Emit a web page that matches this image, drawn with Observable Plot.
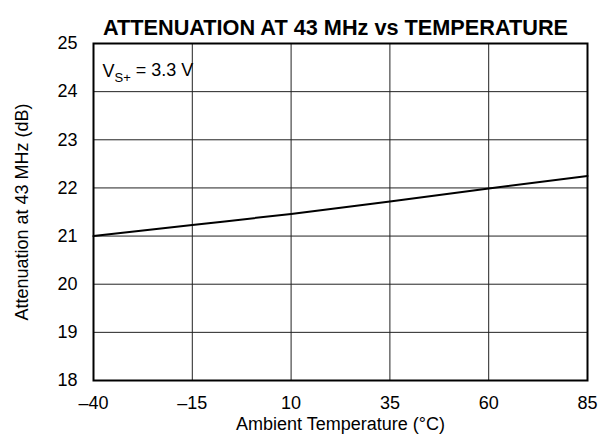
<!DOCTYPE html>
<html>
<head>
<meta charset="utf-8">
<script src="https://cdn.jsdelivr.net/npm/d3@7"></script>
<script src="https://cdn.jsdelivr.net/npm/@observablehq/plot@0.6"></script>
<style>
  html, body { margin: 0; padding: 0; background: white; }
</style>
</head>
<body>
<div id="chart"></div>
<script>
const title = "ATTENUATION AT 43 MHz vs TEMPERATURE";
const xLabel = "Ambient Temperature (°C)";
const yLabel = "Attenuation at 43 MHz (dB)";
const temperatures = [-40, -15, 10, 35, 60, 85];
const attenuation = [21.0, 21.23, 21.46, 21.72, 21.99, 22.25];
const xTicks = [-40, -15, 10, 35, 60, 85];
const yTicks = [18, 19, 20, 21, 22, 23, 24, 25];
const annotation = ["V|S+| = 3.3 V"];

const data = temperatures.map((t, i) => ({t, a: attenuation[i]}));
const fmt = d => d < 0 ? "\u2013" + Math.abs(d) : String(d);

const plot = Plot.plot({
  width: 599,
  height: 446,
  marginTop: 43,
  marginBottom: 66,
  marginLeft: 93,
  marginRight: 12,
  style: {fontFamily: "'Liberation Sans', Arial, Helvetica, sans-serif", fontSize: "18px", color: "black", background: "white"},
  x: {domain: [-40, 85], label: null},
  y: {domain: [18, 25], label: null},
  marks: [
    Plot.gridX(xTicks, {stroke: "#222", strokeOpacity: 1, strokeWidth: 1}),
    Plot.gridY(yTicks, {stroke: "#222", strokeOpacity: 1, strokeWidth: 1}),
    Plot.line(data, {x: "t", y: "a", curve: "monotone-x", stroke: "black", strokeWidth: 2}),
    Plot.text(annotation, {frameAnchor: "top-left", dx: 9, dy: 21, textAnchor: "start", fontSize: 18}),
    Plot.frame({stroke: "black", strokeWidth: 2}),
    Plot.axisX(xTicks, {tickSize: 0, tickPadding: 16, tickFormat: fmt, fontSize: 18}),
    Plot.axisY(yTicks, {tickSize: 0, tickPadding: 16, fontSize: 18}),
    Plot.text([xLabel], {frameAnchor: "bottom", dy: 49, fontSize: 18}),
    Plot.text([yLabel], {frameAnchor: "left", textAnchor: "middle", rotate: -90, dx: -71, fontSize: 18}),
    Plot.text([title], {frameAnchor: "top", dx: -5, dy: -24, fontWeight: "bold", fontSize: 21.7})
  ]
});
document.getElementById("chart").appendChild(plot);

// Format annotation with subscript and white background box
const annNode = Array.from(plot.querySelectorAll("text")).find(t => t.textContent === annotation[0]);
if (annNode) {
  const ann = d3.select(annNode);
  const parts = annotation[0].split("|");
  ann.text(null);
  ann.append("tspan").text(parts[0]);
  ann.append("tspan").attr("dy", "0.35em").attr("font-size", 13).text(parts[1]);
  ann.append("tspan").attr("dy", "-0.35em").text(parts[2]);
  const bb = annNode.getBBox();
  d3.select(annNode.parentNode).insert("rect", "text")
    .attr("x", bb.x - 6).attr("y", bb.y - 4)
    .attr("width", bb.width + 9).attr("height", bb.height + 14)
    .attr("fill", "white");
}
</script>
</body>
</html>
